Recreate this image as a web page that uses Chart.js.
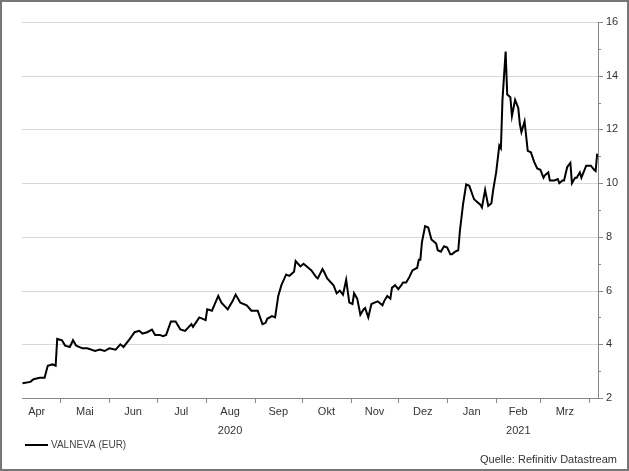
<!DOCTYPE html>
<html><head><meta charset="utf-8">
<script src="https://cdn.jsdelivr.net/npm/chart.js@4"></script>
<style>html,body{margin:0;padding:0;background:#fff}#wrap{position:relative;width:629px;height:471px;box-sizing:border-box;border:2px solid #777}canvas{position:absolute;left:-2px;top:-2px}</style>
</head><body><div id="wrap"><canvas id="c" width="629" height="471"></canvas></div>
<script>
// day offsets from 1 Apr 2020
const days = [6,11,13,17,20,22,25,27,28,31,33,36,38,40,44,47,52,55,58,61,65,68,70,74,77,80,82,85,88,90,93,95,97,100,103,106,109,113,114,118,122,123,126,130,132,136,139,141,144,148,151,155,158,160,161,164,166,168,170,173,175,178,179,182,184,187,189,192,193,196,197,199,203,205,207,209,211,213,215,216,218,220,222,223,225,227,229,231,234,235,237,239,240,242,244,246,247,249,251,253,256,257,258,259,261,263,265,268,269,271,273,275,277,278,280,282,283,285,287,289,292,294,296,297,299,301,303,304,306,308,309,310,312,313,315,316,318,320,321,322,324,326,328,330,332,334,336,337,339,340,343,345,346,348,349,351,353,354,356,357,359,360,363,366,368,369,370];
const prices = [2.55,2.6,2.7,2.75,2.75,3.2,3.25,3.2,4.2,4.15,3.95,3.9,4.15,3.95,3.85,3.85,3.75,3.8,3.75,3.85,3.8,4.0,3.9,4.2,4.45,4.5,4.4,4.45,4.55,4.35,4.35,4.3,4.35,4.85,4.85,4.55,4.5,4.75,4.65,5.0,4.9,5.3,5.25,5.8,5.55,5.3,5.6,5.85,5.55,5.45,5.25,5.25,4.75,4.8,4.95,5.05,5.0,5.8,6.2,6.6,6.55,6.7,7.1,6.9,7.0,6.85,6.75,6.5,6.45,6.8,6.7,6.45,6.2,5.9,6.0,5.85,6.4,5.55,5.5,5.9,5.7,5.1,5.3,5.35,5.0,5.5,5.55,5.6,5.45,5.6,5.8,5.7,6.1,6.2,6.05,6.2,6.3,6.3,6.5,6.75,6.85,7.15,7.15,7.8,8.4,8.35,7.9,7.75,7.5,7.45,7.65,7.6,7.35,7.35,7.45,7.5,8.2,9.2,9.95,9.9,9.4,9.3,9.2,9.1,9.75,9.15,9.25,9.7,10.4,11.4,11.3,13.1,14.9,13.3,13.2,12.5,13.1,12.8,12.2,11.9,12.3,11.2,11.15,10.8,10.55,10.5,10.2,10.3,10.4,10.1,10.1,10.15,10.0,10.1,10.1,10.6,10.75,10.0,10.2,10.2,10.4,10.2,10.65,10.65,10.5,10.45,11.1];
const monthLabels = ['Apr','Mai','Jun','Jul','Aug','Sep','Okt','Nov','Dez','Jan','Feb','Mrz'];
const monthStarts = [0,30,61,91,122,153,183,214,244,275,306,334,365];
const yearLabels = [{text:'2020',month:4},{text:'2021',month:10}];
const yTicks = [2,4,6,8,10,12,14,16];
const seriesName = 'VALNEVA (EUR)';
const sourceText = 'Quelle: Refinitiv Datastream';

const FONT = '"Liberation Sans", Arial, sans-serif';
const deco = {
  id:'deco',
  afterDraw(ch){
    const c=ch.ctx, x=ch.scales.x, y=ch.scales.y, a=ch.chartArea;
    c.save();
    c.strokeStyle='#888'; c.lineWidth=1;
    c.beginPath(); c.moveTo(a.left,a.bottom+0.5); c.lineTo(a.right,a.bottom+0.5);
    c.moveTo(a.right+0.5,a.top); c.lineTo(a.right+0.5,a.bottom); c.stroke();
    c.beginPath();
    for(const m of monthStarts){const px=Math.round(x.getPixelForValue(m))+0.5; if(px<a.left||px>a.right+1)continue; c.moveTo(px,a.bottom); c.lineTo(px,a.bottom+5);}
    for(let v=3;v<16;v+=2){const py=Math.round(y.getPixelForValue(v))+0.5; c.moveTo(a.right,py); c.lineTo(a.right+3,py);}
    for(const v of yTicks){const py=Math.round(y.getPixelForValue(v))+0.5; c.moveTo(a.right,py); c.lineTo(a.right+5,py);}
    c.stroke();
    c.fillStyle='#333'; c.font='11px '+FONT; c.textAlign='center'; c.textBaseline='middle';
    monthLabels.forEach((t,i)=>{const l=Math.max(x.getPixelForValue(monthStarts[i]),a.left-14); const r=x.getPixelForValue(monthStarts[i+1]); c.fillText(t,(l+r)/2,a.bottom+14);});
    yearLabels.forEach(o=>{const l=x.getPixelForValue(monthStarts[o.month]), r=x.getPixelForValue(monthStarts[o.month+1]); c.fillText(o.text,(l+r)/2,a.bottom+33);});
    c.textAlign='left';
    yTicks.forEach(v=>c.fillText(String(v),a.right+8,y.getPixelForValue(v)));
    c.strokeStyle='#000'; c.lineWidth=2; c.beginPath(); c.moveTo(25,445); c.lineTo(48,445); c.stroke();
    c.fillStyle='#444'; c.font='10px '+FONT; c.fillText(seriesName,51,445);
    c.textAlign='right'; c.font='11px '+FONT; c.fillStyle='#333'; c.fillText(sourceText,617,460);
    c.restore();
  }
};
new Chart(document.getElementById('c'),{
  type:'line',
  data:{datasets:[{data:days.map((d,i)=>({x:d,y:prices[i]})),borderColor:'#000',borderWidth:2,pointRadius:0,tension:0}]},
  options:{responsive:false,animation:false,
    layout:{padding:{left:22,top:22,right:31,bottom:73}},
    plugins:{legend:{display:false},tooltip:{enabled:false}},
    scales:{
      x:{type:'linear',display:false,min:5.7,max:370.5},
      y:{display:false,min:2,max:16,afterBuildTicks(s){s.ticks=yTicks.map(v=>({value:v}));}}
    }
  },
  plugins:[deco,{id:'grid',beforeDatasetsDraw(ch){const c=ch.ctx,y=ch.scales.y,a=ch.chartArea;c.save();c.strokeStyle='#d9d9d9';c.lineWidth=1;c.beginPath();yTicks.forEach(v=>{if(v===2)return;const py=Math.round(y.getPixelForValue(v))+0.5;c.moveTo(a.left,py);c.lineTo(a.right,py);});c.stroke();c.restore();}}]
});
</script></body></html>
